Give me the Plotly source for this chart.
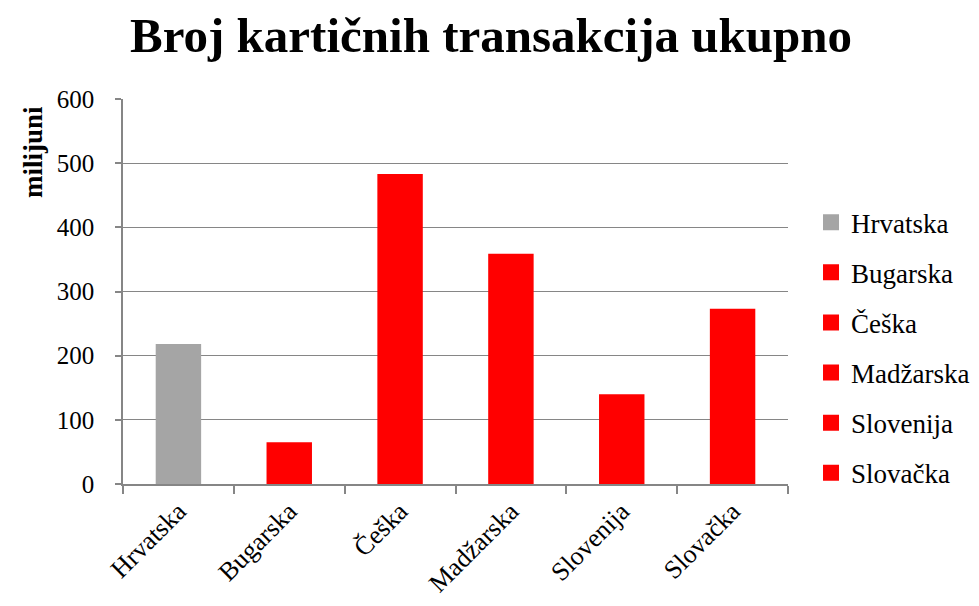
import plotly.graph_objects as go

categories = ["Hrvatska", "Bugarska", "Češka", "Madžarska", "Slovenija", "Slovačka"]
values = [218, 65, 483, 359, 140, 273]
colors = ["#A5A5A5", "#FF0000", "#FF0000", "#FF0000", "#FF0000", "#FF0000"]
y_ticks = [0, 100, 200, 300, 400, 500, 600]

FONT = "Liberation Serif, Times New Roman, serif"

# plot-area geometry (figure px); page body adds ~7px offset
L, T, PW, PH = 115, 91, 665, 385

fig = go.Figure()
for i, (c, v, col) in enumerate(zip(categories, values, colors)):
    fig.add_trace(go.Bar(
        x=[c], y=[v], name=c, marker=dict(color=col, line=dict(width=0)),
        width=0.41, showlegend=False,
    ))
    # legend entry with a larger square swatch
    fig.add_trace(go.Scatter(
        x=[None], y=[None], mode="markers", name=c, legendgroup=f"g{i}",
        marker=dict(symbol="square", size=16, color=col), showlegend=True,
    ))

fig.update_layout(
    width=979, height=606,
    barmode="overlay",
    paper_bgcolor="white", plot_bgcolor="white",
    margin=dict(l=L, r=979 - L - PW, t=T, b=606 - T - PH),
    font=dict(family=FONT, color="black", size=20),
    title=dict(text="<b>Broj kartičnih transakcija ukupno</b>",
               font=dict(family=FONT, size=49, color="black"),
               x=(490 - 7 - L) / PW, xref="paper", xanchor="center",
               y=0.956, yref="container", yanchor="middle"),
    showlegend=True,
    legend=dict(x=1.0346, xanchor="left", y=0.354, yanchor="middle",
                font=dict(family=FONT, size=27), traceorder="grouped",
                tracegroupgap=12, itemwidth=30, bgcolor="rgba(0,0,0,0)"),
    xaxis=dict(categoryorder="array", categoryarray=categories,
               showline=True, linecolor="#868686", linewidth=1.5,
               ticks="outside", tickson="boundaries", ticklen=8,
               tickcolor="#868686", tickwidth=1.5, tickangle=-45,
               tickfont=dict(family=FONT, size=26)),
    yaxis=dict(range=[0, 600], tickvals=y_ticks, showgrid=True,
               gridcolor="#868686", gridwidth=1.3,
               showline=True, linecolor="#868686", linewidth=1.5,
               ticks="outside", ticklen=6, tickcolor="#868686", tickwidth=1.5,
               ticklabelstandoff=16, zeroline=False,
               tickfont=dict(family=FONT, size=25)),
    annotations=[dict(text="<b>milijuni</b>", xref="paper", yref="paper",
                      x=(32 - 7 - L) / PW, y=(T + PH - (151 - 7)) / PH,
                      xanchor="center", yanchor="middle", textangle=-90,
                      showarrow=False, font=dict(family=FONT, size=27))],
)

fig.write_html("out.html")
